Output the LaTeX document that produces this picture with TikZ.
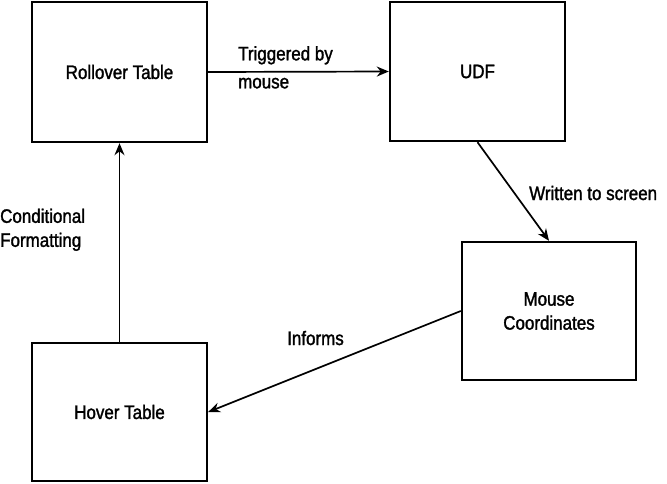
\documentclass[tikz,border=0pt]{standalone}
\usepackage{fontspec}
\setmainfont{Liberation Sans}[FakeStretch=0.87,FakeBold=1.5]
\usetikzlibrary{arrows.meta}
\begin{document}
\begin{tikzpicture}[x=1pt,y=-1pt,
  box/.style={draw,line width=2.4pt,rectangle,minimum width=175pt,minimum height=139pt,inner sep=0pt,align=center,font=\fontsize{19.5}{24}\selectfont},
  conn/.style={line width=1.7pt,-{Stealth[length=12pt,width=10pt]}},
  lbl/.style={inner sep=0pt,align=left,font=\fontsize{19.5}{24}\selectfont}]
\useasboundingbox (0,0) rectangle (667,483);
\node[box,minimum height=140pt] (roll) at (119.5,72) {Rollover Table};
\node[box] (udf) at (477.5,71.5) {UDF};
\node[box,minimum width=174pt,minimum height=138pt] (mouse) at (549,311) {Mouse\\Coordinates};
\node[box,minimum height=138pt] (hover) at (119.5,412) {Hover Table};
\draw[conn] (roll.east) -- (udf.west);
\draw[conn] (udf.south) -- (mouse.north);
\draw[conn] (mouse.west) -- (hover.east);
\draw[conn] (hover.north) -- (roll.south);
\node[lbl,anchor=north west] (l1) at (238,46) {Triggered by\\[4pt]mouse};
\node[lbl,anchor=base west] (l2) at (529,200) {Written to screen};
\node[lbl,anchor=base west] (l3) at (287,345) {Informs};
\node[lbl,anchor=north west] (l4) at (0,208.5) {Conditional\\Formatting};
\end{tikzpicture}
\end{document}
